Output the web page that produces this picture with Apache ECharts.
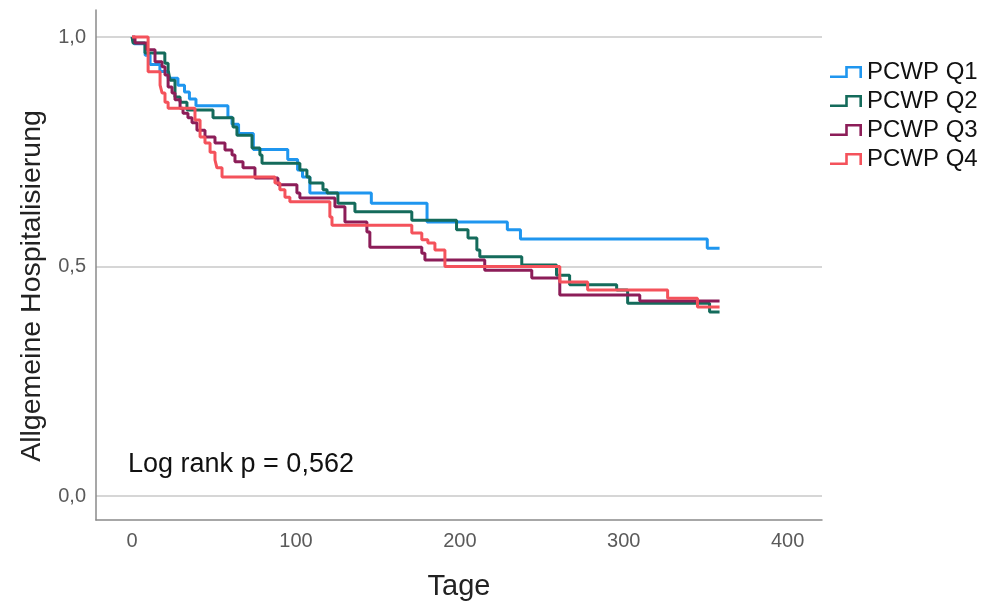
<!DOCTYPE html>
<html>
<head>
<meta charset="utf-8">
<script src="https://cdn.jsdelivr.net/npm/echarts@6/dist/echarts.min.js"></script>
<style>html,body{margin:0;padding:0;background:#fff;}#c{width:983px;height:608px;}</style>
</head>
<body>
<div id="c"></div>
<script>
// ---- data (days, survival) ----
const seriesNames = ['PCWP Q1', 'PCWP Q2', 'PCWP Q3', 'PCWP Q4'];
const xTicks = [0, 100, 200, 300, 400];
const yTicks = [0, 0.5, 1.0];

const q1Days = [0, 1.2, 8, 11, 17, 22, 28, 32, 35, 39, 58.5, 61, 65, 74, 95, 101, 104, 108.5, 146, 180, 229, 237, 351, 358.5];
const q1Vals = [1.0, 0.985, 0.96, 0.94, 0.925, 0.91, 0.895, 0.88, 0.865, 0.85, 0.825, 0.81, 0.79, 0.755, 0.733, 0.71, 0.695, 0.66, 0.638, 0.597, 0.58, 0.56, 0.54, 0.54];

const q2Days = [0, 0.6, 7.9, 20, 22, 23.2, 26.2, 29.3, 33.5, 49.4, 61.6, 64, 73.2, 78, 79.3, 102.4, 106.7, 108.5, 116.5, 119, 125.6, 136, 170.7, 198, 205, 210.4, 212.2, 237.8, 259, 267, 295.7, 302.4, 352.4, 358.5];
const q2Vals = [1.0, 0.987, 0.965, 0.943, 0.928, 0.906, 0.869, 0.858, 0.841, 0.824, 0.804, 0.786, 0.758, 0.743, 0.725, 0.710, 0.695, 0.682, 0.667, 0.660, 0.638, 0.619, 0.601, 0.580, 0.562, 0.536, 0.521, 0.503, 0.481, 0.460, 0.449, 0.420, 0.401, 0.401];

const q3Days = [0, 1.8, 9.1, 14, 18.3, 20.1, 22, 24.4, 26.2, 29.3, 31.1, 34.1, 36.6, 39.6, 44.5, 50.6, 56.7, 61, 62.8, 67.7, 75, 89, 100.6, 102.4, 123.8, 129.9, 143.3, 145.1, 176.8, 178.7, 215.2, 243.9, 261, 309.8, 358.5];
const q3Vals = [1.0, 0.987, 0.972, 0.946, 0.935, 0.917, 0.891, 0.878, 0.863, 0.845, 0.834, 0.824, 0.813, 0.797, 0.782, 0.769, 0.754, 0.743, 0.728, 0.715, 0.693, 0.678, 0.660, 0.649, 0.630, 0.597, 0.575, 0.542, 0.529, 0.514, 0.492, 0.475, 0.438, 0.425, 0.425];

const q4Days = [0, 9.8, 17.1, 18.3, 20.1, 22, 38.4, 41.5, 44.5, 47.6, 50.6, 51.8, 54.9, 87.2, 90.2, 93.3, 96.3, 120.7, 122, 170.7, 176.8, 180.5, 184.8, 190.9, 261, 278, 326.8, 345, 358.5];
const q4Vals = [1.0, 0.924, 0.895, 0.878, 0.858, 0.845, 0.819, 0.782, 0.769, 0.749, 0.732, 0.715, 0.695, 0.682, 0.667, 0.651, 0.641, 0.608, 0.590, 0.573, 0.558, 0.551, 0.536, 0.500, 0.466, 0.449, 0.431, 0.412, 0.412];

const annotation = 'Log rank p = 0,562';
// -------------------------------

const colors = ['#1F96EF', '#146B5B', '#8C1D58', '#F4525B'];
const allDays = [q1Days, q2Days, q3Days, q4Days];
const allVals = [q1Vals, q2Vals, q3Vals, q4Vals];
const FONT = 'Liberation Sans, Arial, sans-serif';
const stepIcon = 'path://M0,9.4 L15.2,9.4 L15.2,0 L32,0 L32,12 L29.4,12 L29.4,2.6 L17.8,2.6 L17.8,12 L0,12 Z';

const series = seriesNames.map((name, i) => ({
  name: name,
  type: 'line',
  step: 'end',
  symbol: 'none',
  data: allDays[i].map((d, k) => [d, allVals[i][k]]),
  lineStyle: { color: colors[i], width: 3 },
  itemStyle: { color: colors[i] },
  emphasis: { disabled: true },
  z: 3 + i
}));

const chart = echarts.init(document.getElementById('c'), null, { renderer: 'canvas' });
chart.setOption({
  animation: false,
  backgroundColor: '#ffffff',
  color: colors,
  textStyle: { fontFamily: FONT },
  grid: { left: 96, top: 10, right: 161, bottom: 88, containLabel: false },
  legend: {
    orient: 'vertical',
    left: 825,
    top: 55,
    itemWidth: 32,
    itemHeight: 12,
    itemGap: 5,
    icon: stepIcon,
    itemStyle: { borderWidth: 0 },
    textStyle: { fontSize: 24, color: '#111', fontFamily: FONT, lineHeight: 24 },
    data: seriesNames
  },
  xAxis: {
    type: 'value',
    min: -22,
    max: 421,
    name: 'Tage',
    nameLocation: 'middle',
    nameGap: 52,
    nameTextStyle: { fontSize: 29, color: '#222', fontFamily: FONT },
    axisLine: { show: true, onZero: false, lineStyle: { color: '#8a8a8a', width: 1.5 } },
    axisTick: { show: false, customValues: xTicks },
    splitLine: { show: false },
    axisLabel: { customValues: xTicks, fontSize: 20, color: '#5a5a5a', margin: 11, fontFamily: FONT }
  },
  yAxis: {
    type: 'value',
    min: -0.0523,
    max: 1.0588,
    name: 'Allgemeine Hospitalisierung',
    nameLocation: 'middle',
    nameRotate: 90,
    nameGap: 49,
    nameTextStyle: { fontSize: 28.5, color: '#222', fontFamily: FONT, padding: [0, 42, 0, 0] },
    axisLine: { show: true, onZero: false, lineStyle: { color: '#8a8a8a', width: 1.5 } },
    axisTick: { show: false, customValues: yTicks },
    splitLine: { show: true, lineStyle: { color: '#c8c8c8', width: 1.5 } },
    axisLabel: {
      customValues: yTicks, fontSize: 20, color: '#5a5a5a', margin: 10, fontFamily: FONT,
      formatter: v => v.toFixed(1).replace('.', ',')
    }
  },
  graphic: [{
    type: 'text',
    x: 128,
    y: 465,
    style: { text: annotation, font: '27px ' + FONT, fill: '#111', textVerticalAlign: 'middle', verticalAlign: 'middle' },
    z: 10
  }],
  series: series
});
</script>
</body>
</html>
